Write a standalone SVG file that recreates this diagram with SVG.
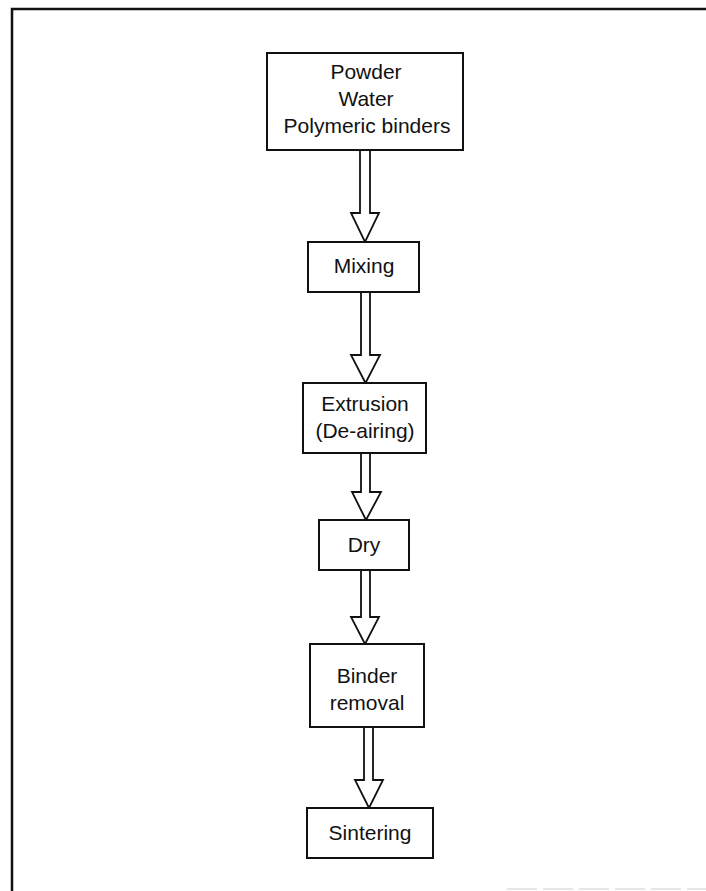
<svg xmlns="http://www.w3.org/2000/svg" width="706" height="891" viewBox="0 0 706 891">
  <style>
    .box { fill: #fff; stroke: #111; stroke-width: 2; }
    .arrow { fill: #fff; stroke: #111; stroke-width: 1.8; stroke-linejoin: miter; }
    .frame { fill: none; stroke: #111; stroke-width: 2.5; }
    text { font-family: "Liberation Sans", Arial, sans-serif; font-size: 21px; fill: #111; text-anchor: middle; }
  </style>
  <rect width="706" height="891" fill="#fff"/>
  <g id="frame">
    <path class="frame" d="M12,891 V9 H706"/>
    <line x1="507" y1="889" x2="706" y2="889" stroke="#ccc" stroke-width="1" stroke-dasharray="30,6"/>
  </g>
  <g id="connectors">
    <path class="arrow" d="M360,151 V213 H351 L365,242 L379,213 H370 V151"/>
    <path class="arrow" d="M361,293 V355 H351 L365.5,383 L380,355 H370 V293"/>
    <path class="arrow" d="M361,454 V492 H352 L366,520 L381,492 H370 V454"/>
    <path class="arrow" d="M361,571 V617 H351 L365,644 L379,617 H370 V571"/>
    <path class="arrow" d="M364,728 V780 H355 L369,808 L383,780 H373 V728"/>
  </g>
  <g id="node-inputs">
    <rect class="box" x="267" y="53" width="196" height="97"/>
    <text x="366" y="79">Powder</text>
    <text x="366" y="106">Water</text>
    <text x="367" y="133">Polymeric binders</text>
  </g>
  <g id="node-mixing">
    <rect class="box" x="308" y="242" width="111" height="50"/>
    <text x="364" y="273">Mixing</text>
  </g>
  <g id="node-extrusion">
    <rect class="box" x="303" y="383" width="123" height="70"/>
    <text x="365" y="411">Extrusion</text>
    <text x="365" y="438">(De-airing)</text>
  </g>
  <g id="node-dry">
    <rect class="box" x="319" y="520" width="90" height="50"/>
    <text x="364" y="552">Dry</text>
  </g>
  <g id="node-binder-removal">
    <rect class="box" x="310" y="644" width="114" height="83"/>
    <text x="367" y="683">Binder</text>
    <text x="367" y="710">removal</text>
  </g>
  <g id="node-sintering">
    <rect class="box" x="307" y="808" width="126" height="50"/>
    <text x="370" y="840">Sintering</text>
  </g>
</svg>
